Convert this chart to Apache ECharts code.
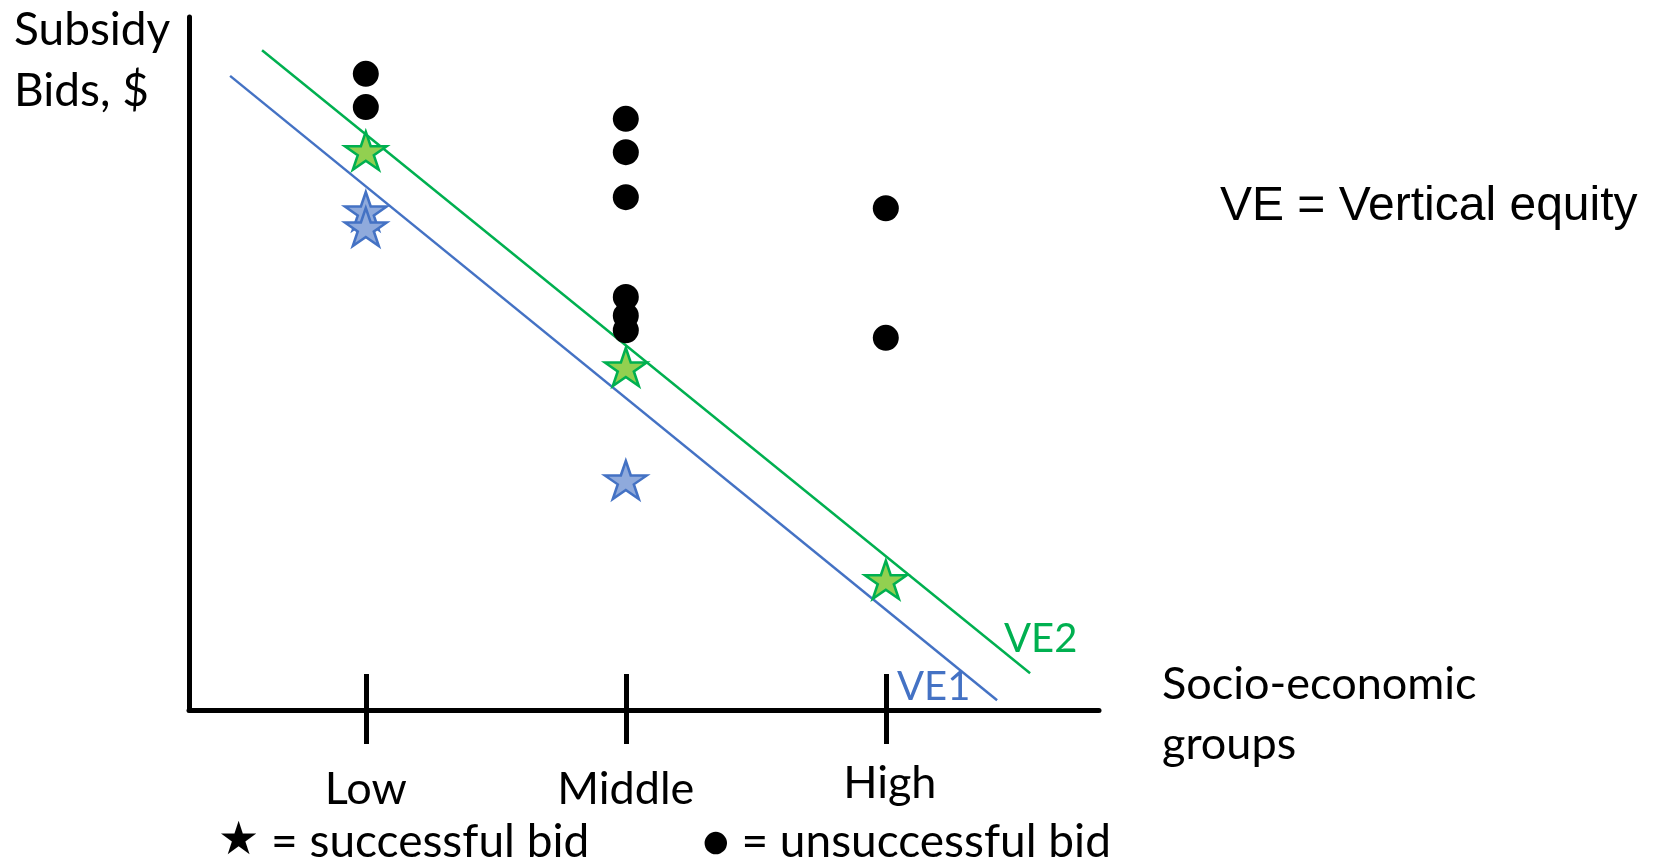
<!DOCTYPE html>
<html>
<head>
<meta charset="utf-8">
<script src="https://cdn.jsdelivr.net/npm/echarts@6/dist/echarts.min.js"></script>
<style>
html,body{margin:0;padding:0;background:#fff;}
#chart{width:1655px;height:861px;}
</style>
</head>
<body>
<div id="chart"></div>
<script>
// Categories on the x axis and their positions
var groups = ['Low', 'Middle', 'High'];
var groupX = [1, 2, 3];

// Unsuccessful bids (black dots): [group position, bid]
var unsuccessfulBids = [
  [1, 91.8], [1, 87.0],
  [2, 85.3], [2, 80.5], [2, 74.0], [2, 59.6], [2, 56.9], [2, 54.8],
  [3, 72.4], [3, 53.7]
];
// Successful bids under VE1 (blue stars)
var successVE1 = [[1, 72.0], [1, 69.7], [2, 33.2]];
// Successful bids under VE2 (green stars)
var successVE2 = [[1, 80.7], [2, 49.5], [3, 18.8]];

// Vertical-equity lines (start and end)
var lineVE1 = [[0.478, 91.5], [3.428, 1.4]];
var lineVE2 = [[0.601, 95.2], [3.555, 5.3]];

var BLUE = '#4472C4', GREEN = '#00B050';
var STAR = 'path://M50 0 L61.23 34.55 L97.55 34.55 L68.17 55.9 L79.39 90.45 L50 69.1 L20.61 90.45 L31.83 55.9 L2.45 34.55 L38.77 34.55 Z';
var FONT = 'Lato';

var chart = echarts.init(document.getElementById('chart'));
var xMin = 0.32, xMax = 3.82;
chart.setOption({
  animation: false,
  backgroundColor: '#fff',
  grid: { left: 189, right: 556, top: 17, bottom: 151 },
  xAxis: [{
    type: 'value', min: xMin, max: xMax, position: 'bottom',
    splitLine: { show: false },
    axisLine: { show: true, onZero: false, lineStyle: { color: '#000', width: 5 } },
    axisTick: { show: true, inside: true, length: 36, customValues: groupX, lineStyle: { color: '#000', width: 5 } },
    axisLabel: {
      show: true, customValues: groupX, margin: 51,
      color: '#000', fontFamily: FONT, fontSize: 45,
      formatter: function (v) {
        var i = groupX.indexOf(v);
        if (i < 0) return '';
        return i === 2 ? '{h|' + groups[i] + '}' : '{n|' + groups[i] + '}';
      },
      rich: {
        n: { fontFamily: FONT, fontSize: 45, color: '#000', padding: [6, 0, 0, 0] },
        h: { fontFamily: FONT, fontSize: 45, color: '#000', padding: [0, 0, 0, 8] }
      }
    }
  }, {
    type: 'value', min: xMin, max: xMax, position: 'bottom',
    splitLine: { show: false },
    axisLine: { show: false },
    axisTick: { show: true, inside: false, length: 34, customValues: groupX, lineStyle: { color: '#000', width: 5 } },
    axisLabel: { show: false }
  }],
  yAxis: {
    type: 'value', min: 0, max: 100,
    splitLine: { show: false },
    axisLine: { show: true, onZero: false, lineStyle: { color: '#000', width: 5 } },
    axisTick: { show: false },
    axisLabel: { show: false }
  },
  series: [
    { type: 'line', data: lineVE1, showSymbol: false, lineStyle: { color: BLUE, width: 2.5 }, z: 2 },
    { type: 'line', data: lineVE2, showSymbol: false, lineStyle: { color: GREEN, width: 2.5 }, z: 2 },
    { type: 'scatter', data: unsuccessfulBids, symbol: 'circle', symbolSize: 26, itemStyle: { color: '#000', opacity: 1 }, z: 3 },
    { type: 'scatter', data: successVE1, symbol: STAR, symbolSize: [42, 38], itemStyle: { color: '#8FAADC', borderColor: BLUE, borderWidth: 2.5, opacity: 1 }, z: 4 },
    { type: 'scatter', data: successVE2, symbol: STAR, symbolSize: [42, 38], itemStyle: { color: '#92D050', borderColor: GREEN, borderWidth: 2.5, opacity: 1 }, z: 4 }
  ],
  graphic: [
    { type: 'text', left: 14, top: 0, style: { text: 'Subsidy\nBids, $', font: '46px ' + FONT, fill: '#000', lineHeight: 61 } },
    { type: 'text', left: 1220, top: 183, style: { text: 'VE = Vertical equity', font: '48px "Liberation Sans"', fill: '#000' } },
    { type: 'text', left: 1162, top: 654, style: { text: 'Socio-economic\ngroups', font: '45px ' + FONT, fill: '#000', lineHeight: 60 } },
    { type: 'text', left: 897, top: 667, style: { text: 'VE1', font: '40px ' + FONT, fill: BLUE } },
    { type: 'text', left: 1004, top: 619, style: { text: 'VE2', font: '40px ' + FONT, fill: GREEN } },
    { type: 'text', left: 218, top: 819, style: { text: '{s|★} = successful bid', font: '46px ' + FONT, fill: '#000', rich: { s: { font: '46px "DejaVu Sans"', fill: '#000' } } } },
    { type: 'text', left: 702, top: 819, style: { text: '● = unsuccessful bid', font: '46px ' + FONT, fill: '#000' } }
  ]
});
</script>
</body>
</html>
